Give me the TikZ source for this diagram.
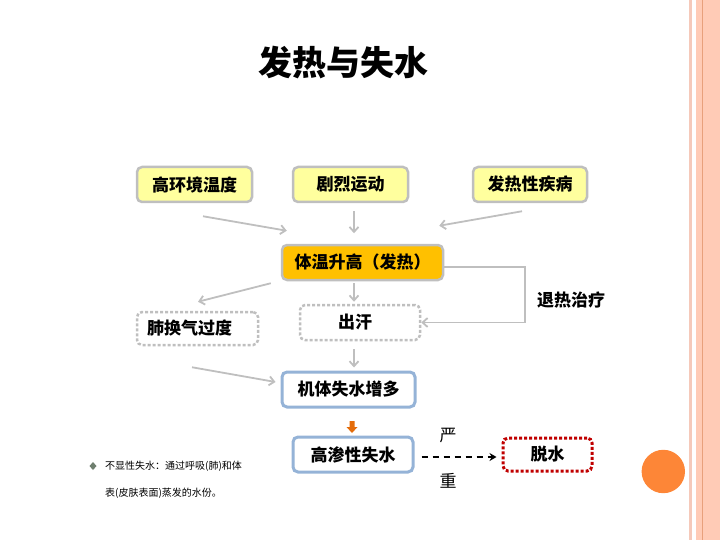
\documentclass[tikz,border=0pt]{standalone}
\usepackage{fontspec}
\setmainfont{Noto Sans CJK SC}
\usetikzlibrary{arrows.meta,calc}
\definecolor{boxgray}{HTML}{BFBFBF}
\definecolor{lightyellow}{HTML}{FFFF9E}
\definecolor{gold}{HTML}{FFC000}
\definecolor{lblue}{HTML}{95B3D7}
\definecolor{dred}{HTML}{C00000}
\definecolor{orangearr}{HTML}{E46C0A}
\definecolor{circorange}{HTML}{FD8637}
\definecolor{stripepink}{HTML}{F5C9BA}
\definecolor{stripesalmon}{HTML}{FFCBB6}
\definecolor{stripeline}{HTML}{E8A07C}
\definecolor{bulletgray}{HTML}{6F7F6F}
\tikzset{
  boxtext/.style={font=\fontsize{17}{17}\selectfont\bfseries, inner sep=0pt, rounded corners=5pt},
  yellowbox/.style={boxtext, draw=boxgray, line width=2.5pt, fill=lightyellow, minimum height=35pt},
  goldbox/.style={boxtext, draw=boxgray, line width=2.5pt, fill=gold, minimum height=35pt},
  dotbox/.style={boxtext, draw=boxgray, line width=2.5pt, dash pattern=on 3pt off 2pt, minimum height=35pt},
  bluebox/.style={boxtext, draw=lblue, line width=3pt, fill=white, minimum height=35pt},
  redbox/.style={boxtext, draw=dred, line width=3pt, dash pattern=on 3pt off 2pt, minimum height=33pt},
  grayarr/.style={draw=boxgray, line width=1.8pt, -{Straight Barb[length=5pt,width=9pt,line width=1.8pt]}},
  plaintext/.style={inner sep=0pt},
}
\begin{document}
\begin{tikzpicture}[x=1pt,y=-1pt]
\useasboundingbox (0,0) rectangle (720,540);
% right decoration
\fill[stripepink] (689.3,0) rectangle (692,540);
\fill[stripesalmon] (695.7,0) rectangle (720,540);
\fill[stripeline] (701.7,0) rectangle (703.3,540);
\fill[circorange] (663.3,471.5) circle (21.7);

% title
\node[plaintext, font=\fontsize{34}{34}\selectfont\bfseries] (title) at (343.5,63) {发热与失水};

% boxes
\node[yellowbox, minimum width=115pt] (n1) at (194.5,184.5) {高环境温度};
\node[yellowbox, minimum width=115pt] (n2) at (350.5,184.5) {剧烈运动};
\node[yellowbox, minimum width=114pt] (n3) at (530,184.5) {发热性疾病};
\node[goldbox, minimum width=161pt] (n4) at (362.5,262.5) {体温升高（发热）};
\node[dotbox, minimum width=121pt, minimum height=33pt] (n5) at (197.5,328.5) {\hspace*{-16pt}肺换气过度};
\node[dotbox, minimum width=120pt] (n6) at (360,322.5) {\hspace*{-10pt}出汗};
\node[bluebox, minimum width=133pt] (n7) at (348.5,389.5) {机体失水增多};
\node[bluebox, minimum width=120pt] (n8) at (353,454.5) {高渗性失水};
\node[redbox, minimum width=89pt] (n9) at (547.5,454.5) {脱水};

% labels
\node[plaintext, font=\fontsize{17}{17}\selectfont\bfseries] (lt) at (571,300) {退热治疗};
\node[plaintext, font=\fontsize{17}{17}\selectfont] (ly) at (448,436) {严};
\node[plaintext, font=\fontsize{17}{17}\selectfont] (lz) at (448,481) {重};

% arrows
\draw[grayarr] ($(n1.south)+(8.5,13)$) -- ($(n4.north west)+(6,-13)$);
\draw[grayarr] ($(n2.south)+(3.5,8)$) -- ($(n2.south)+(3.5,30)$);
\draw[grayarr] ($(n3.south)+(-8,8)$) -- ($(n4.north east)+(-5,-18)$);
\draw[grayarr] ($(n4.east)+(0,4.5)$) -- ++(81,0) |- (n6.east);
\draw[grayarr] ($(n4.south west)+(-10,2)$) -- ($(n5.north)+(0.5,-9)$);
\draw[grayarr] ($(n4.south)+(-8.5,2)$) -- ($(n6.north)+(-6,-2)$);
\draw[grayarr] ($(n6.south)+(-6,8)$) -- ($(n7.north)+(5.5,-3)$);
\draw[grayarr] ($(n5.south)+(-5.5,21)$) -- ($(n7.west)+(-5,-7.5)$);

% orange block arrow
\fill[orangearr] (349.5,421) -- (354.5,421) -- (354.5,427) -- (357.5,427) -- (352,433) -- (346.5,427) -- (349.5,427) -- cycle;

% dashed arrow
\draw[black, line width=1.6pt, dash pattern=on 6pt off 5pt, -{Stealth[length=7pt,width=8pt]}] ($(n8.east)+(7,2.5)$) -- ($(n9.west)+(-5,2.5)$);

% note
\fill[bulletgray] (93,462) -- (96.5,466) -- (93,470) -- (89.5,466) -- cycle;
\node[plaintext, anchor=west, font=\fontsize{10}{10}\selectfont] (note1) at (105,466) {不显性失水：通过呼吸(肺)和体};
\node[plaintext, anchor=west, font=\fontsize{10}{10}\selectfont] (note2) at (105,493) {表(皮肤表面)蒸发的水份。};
\end{tikzpicture}
\end{document}
